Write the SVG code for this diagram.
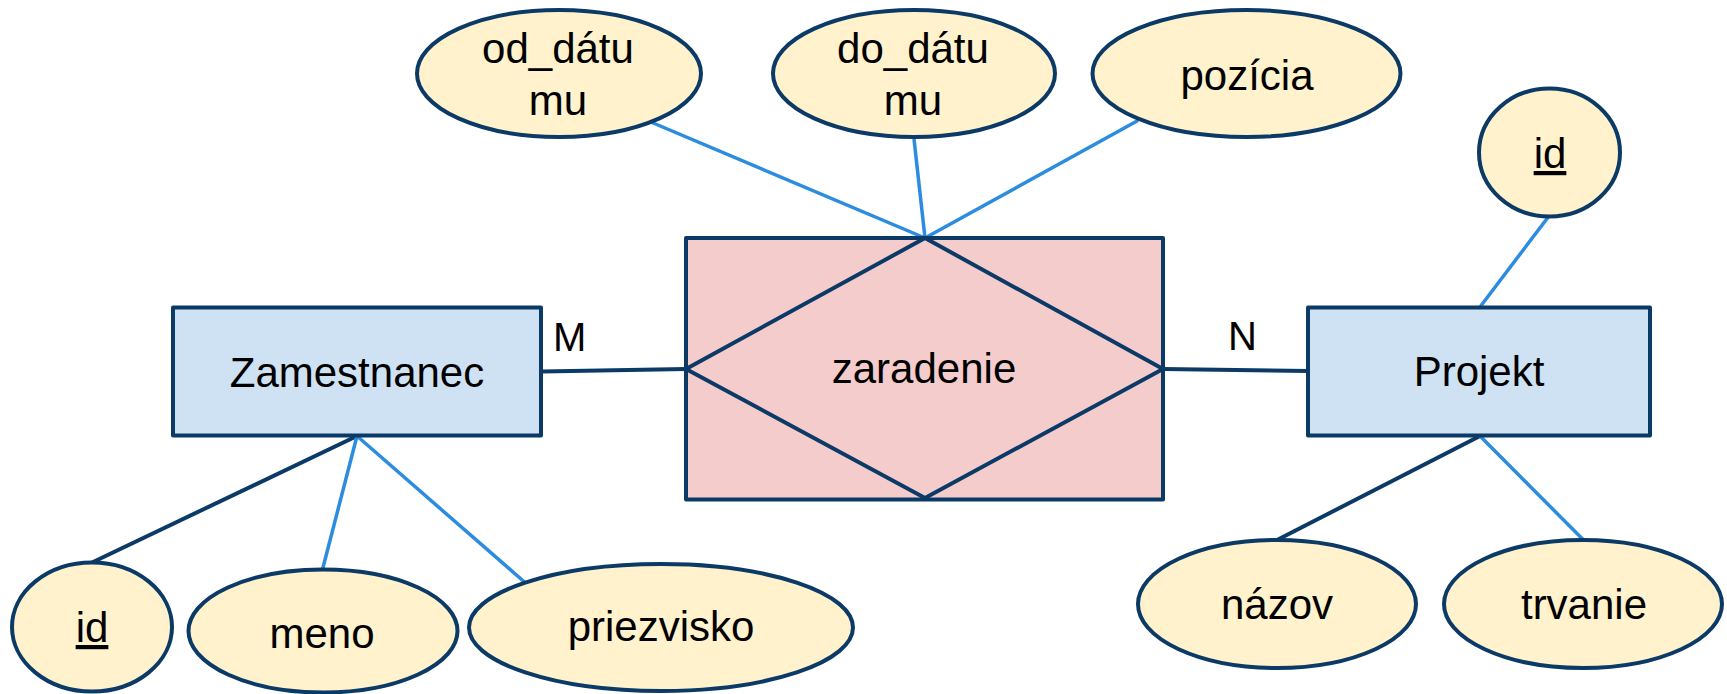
<svg xmlns="http://www.w3.org/2000/svg" width="1727" height="694" viewBox="0 0 1727 694">
  <style>
    .entity { fill: #cfe2f3; stroke: #0b3a66; stroke-width: 4; stroke-linejoin: round; }
    .rel { fill: #f4cccc; stroke: #0b3a66; stroke-width: 4; stroke-linejoin: round; }
    .diamond { fill: none; stroke: #0b3a66; stroke-width: 4; stroke-linejoin: miter; }
    .attr { fill: #fff2cc; stroke: #0b3a66; stroke-width: 4; }
    .dark { stroke: #0b3a66; stroke-width: 4; fill: none; }
    .light { stroke: #2b8ce0; stroke-width: 3.5; fill: none; }
    text { font-family: "Liberation Sans", Arial, sans-serif; font-size: 42px; fill: #000; text-anchor: middle; }
    .card { font-size: 40px; text-anchor: start; }
    .key { text-decoration: underline; }
  </style>

  <rect width="1727" height="694" fill="#ffffff"/>

  <!-- connectors -->
  <g id="connectors">
    <line class="dark" x1="542" y1="371.5" x2="686" y2="369"/>
    <line class="dark" x1="1163" y1="369" x2="1308" y2="371"/>
    <line class="light" x1="652" y1="122.5" x2="925" y2="238"/>
    <line class="light" x1="914" y1="139" x2="925" y2="238"/>
    <line class="light" x1="1138" y1="120.5" x2="925" y2="238"/>
    <line class="light" x1="1549" y1="216" x2="1480" y2="307"/>
    <line class="dark" x1="357" y1="436" x2="92" y2="562.5"/>
    <line class="light" x1="357" y1="436" x2="322.5" y2="569.5"/>
    <line class="light" x1="357" y1="436" x2="525" y2="582.5"/>
    <line class="dark" x1="1480" y1="436" x2="1278" y2="539.5"/>
    <line class="light" x1="1480" y1="436" x2="1583" y2="539.5"/>
  </g>

  <!-- cardinality labels -->
  <text class="card" x="553" y="351">M</text>
  <text class="card" x="1228" y="350">N</text>

  <!-- entity: Zamestnanec -->
  <g id="zamestnanec">
    <rect class="entity" x="173" y="307.5" width="368" height="128"/>
    <text x="357" y="387">Zamestnanec</text>
  </g>

  <!-- relationship: zaradenie -->
  <g id="zaradenie">
    <rect class="rel" x="686" y="238" width="477" height="261.5"/>
    <polygon class="diamond" points="925,238 1163,369 925,498 686,369"/>
    <text x="924" y="383">zaradenie</text>
  </g>

  <!-- entity: Projekt -->
  <g id="projekt">
    <rect class="entity" x="1308" y="307.5" width="342" height="128"/>
    <text x="1479" y="386">Projekt</text>
  </g>

  <!-- relationship attributes -->
  <g id="od_datumu">
    <ellipse class="attr" cx="559" cy="73.5" rx="142" ry="63.5"/>
    <text x="558" y="63">od_dátu</text>
    <text x="558" y="115">mu</text>
  </g>
  <g id="do_datumu">
    <ellipse class="attr" cx="914" cy="73.5" rx="141" ry="63.5"/>
    <text x="913" y="63">do_dátu</text>
    <text x="913" y="115">mu</text>
  </g>
  <g id="pozicia">
    <ellipse class="attr" cx="1246.5" cy="73.5" rx="154" ry="63.5"/>
    <text x="1247" y="90">pozícia</text>
  </g>

  <!-- Projekt attributes -->
  <g id="projekt_id">
    <ellipse class="attr" cx="1549.5" cy="152.5" rx="70.5" ry="64"/>
    <text class="key" x="1550" y="168">id</text>
  </g>
  <g id="nazov">
    <ellipse class="attr" cx="1277" cy="604" rx="139" ry="64"/>
    <text x="1277" y="619">názov</text>
  </g>
  <g id="trvanie">
    <ellipse class="attr" cx="1583" cy="604" rx="139" ry="64"/>
    <text x="1584" y="619">trvanie</text>
  </g>

  <!-- Zamestnanec attributes -->
  <g id="zamestnanec_id">
    <ellipse class="attr" cx="92" cy="627" rx="80" ry="64.5"/>
    <text class="key" x="92" y="642">id</text>
  </g>
  <g id="meno">
    <ellipse class="attr" cx="323" cy="631" rx="134.5" ry="61.5"/>
    <text x="322" y="648">meno</text>
  </g>
  <g id="priezvisko">
    <ellipse class="attr" cx="661" cy="627.5" rx="192" ry="63.5"/>
    <text x="661" y="641">priezvisko</text>
  </g>
</svg>
